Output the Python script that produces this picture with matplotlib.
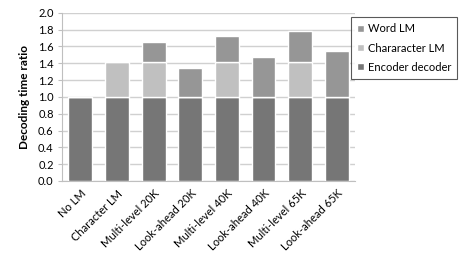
import matplotlib.pyplot as plt
import numpy as np

# values
labels = ["No LM", "Character LM", "Multi-level 20K", "Look-ahead 20K",
          "Multi-level 40K", "Look-ahead 40K", "Multi-level 65K", "Look-ahead 65K"]
encoder = [1.0, 1.0, 1.0, 1.0, 1.0, 1.0, 1.0, 1.0]
char_lm = [0.0, 0.41, 0.41, 0.0, 0.41, 0.0, 0.41, 0.0]
word_lm = [0.0, 0.0, 0.24, 0.35, 0.32, 0.47, 0.38, 0.55]

plt.rcParams['font.family'] = ['Lato', 'DejaVu Sans']

fig = plt.figure(figsize=(4.63, 2.63), dpi=100)
ax = fig.add_axes([0.134, 0.312, 0.633, 0.639])

x = np.arange(len(labels))
w = 0.65
enc = np.array(encoder)
ch = np.array(char_lm)
wd = np.array(word_lm)
b1 = ax.bar(x, enc, w, color='#767676', edgecolor='white', linewidth=1, label='Encoder decoder', zorder=3)
b2 = ax.bar(x, ch, w, bottom=enc, color='#c0c0c0', edgecolor='white', linewidth=1, label='Chararacter LM', zorder=3)
b3 = ax.bar(x, wd, w, bottom=enc + ch, color='#969696', edgecolor='white', linewidth=1, label='Word LM', zorder=3)

ax.set_xlim(-0.5, len(labels) - 0.5)
ax.set_ylim(0, 2.0)
ax.set_yticks(np.arange(0, 2.01, 0.2))
ax.set_yticklabels([f"{v:.1f}" for v in np.arange(0, 2.01, 0.2)], fontsize=8)
ax.set_xticks(x)
ax.set_xticklabels(labels, rotation=45, ha='right', rotation_mode='anchor', fontsize=8)
ax.tick_params(axis='x', length=0, pad=5)
ax.tick_params(axis='y', length=3, color='#bfbfbf', pad=3)
ax.grid(axis='y', color='#d0d0d0', linewidth=1, zorder=0)
for s in ['top', 'right']:
    ax.spines[s].set_visible(False)
ax.spines['left'].set_color('#bfbfbf')
ax.spines['bottom'].set_color('#bfbfbf')
ax.set_ylabel('Decoding time ratio', fontsize=8.5, fontweight='bold', labelpad=6)

leg = ax.legend(handles=[b3, b2, b1], loc='upper left', bbox_to_anchor=(0.985, 0.975),
                fontsize=8, frameon=True, fancybox=False, edgecolor='#303030',
                handlelength=0.6, handleheight=0.6, handletextpad=0.4, labelspacing=0.75,
                borderpad=0.55, borderaxespad=0)
leg.get_frame().set_linewidth(0.8)

plt.savefig("out.png", dpi=100)
